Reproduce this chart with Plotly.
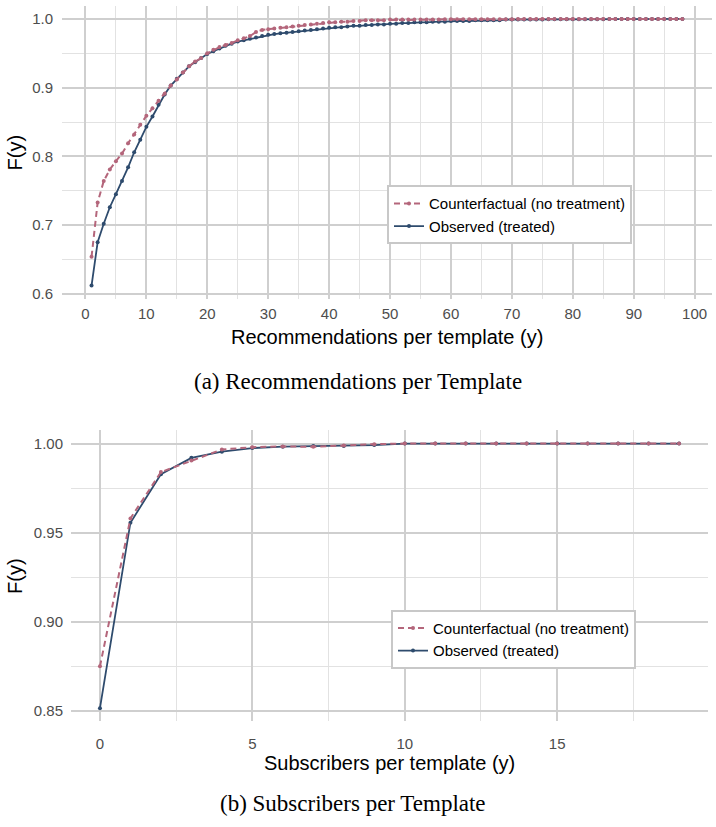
import plotly.graph_objects as go

# ---------------- data ----------------
rec_x = list(range(1, 99))
rec_counterfactual = [
    0.654, 0.733, 0.764, 0.781, 0.793, 0.804, 0.819, 0.832, 0.846, 0.859,
    0.870, 0.881, 0.891, 0.903, 0.912, 0.922, 0.931, 0.938, 0.943, 0.950,
    0.955, 0.959, 0.962, 0.965, 0.969, 0.972, 0.975, 0.981, 0.984, 0.985,
    0.986, 0.987, 0.988, 0.989, 0.990, 0.991, 0.992, 0.993, 0.994, 0.995,
    0.995, 0.996, 0.996, 0.997, 0.997, 0.998, 0.998, 0.998, 0.998, 0.999,
    0.999, 0.999, 0.999, 0.999, 0.999, 0.999, 0.999, 0.999, 0.9995, 0.9995,
    0.9995, 0.9995, 0.9995, 0.9995, 0.9995, 0.9995, 0.9995, 0.9995, 0.9995, 0.9995,
    1.0, 1.0, 1.0, 1.0, 1.0, 1.0, 1.0, 1.0, 1.0, 1.0,
    1.0, 1.0, 1.0, 1.0, 1.0, 1.0, 1.0, 1.0, 1.0, 1.0,
    1.0, 1.0, 1.0, 1.0, 1.0, 1.0, 1.0, 1.0,
]
rec_observed = [
    0.612, 0.675, 0.702, 0.726, 0.745, 0.764, 0.784, 0.806, 0.824, 0.843,
    0.858, 0.875, 0.890, 0.903, 0.913, 0.922, 0.931, 0.937, 0.943, 0.949,
    0.953, 0.957, 0.961, 0.964, 0.967, 0.969, 0.971, 0.973, 0.975, 0.977,
    0.978, 0.979, 0.980, 0.981, 0.982, 0.983, 0.984, 0.985, 0.986, 0.987,
    0.988, 0.988, 0.989, 0.990, 0.990, 0.991, 0.991, 0.992, 0.992, 0.993,
    0.993, 0.994, 0.994, 0.995, 0.995, 0.995, 0.996, 0.996, 0.996, 0.997,
    0.997, 0.997, 0.997, 0.998, 0.998, 0.998, 0.998, 0.998, 0.999, 0.999,
    0.999, 0.999, 0.999, 0.999, 0.999, 0.9995, 0.9995, 0.9995, 0.9995, 0.9995,
    0.9995, 0.9995, 0.9995, 0.9995, 0.9995, 1.0, 1.0, 1.0, 1.0, 1.0,
    1.0, 1.0, 1.0, 1.0, 1.0, 1.0, 1.0, 1.0,
]

sub_x = list(range(0, 20))
sub_counterfactual = [
    0.875, 0.958, 0.984, 0.9905, 0.9967, 0.998, 0.9984, 0.9982, 0.999, 0.9997,
    1.0, 1.0, 1.0, 1.0, 1.0, 1.0, 1.0, 1.0, 1.0, 1.0,
]
sub_observed = [
    0.8515, 0.9556, 0.9828, 0.992, 0.9955, 0.9975, 0.9983, 0.9986, 0.9987, 0.9992,
    1.0, 1.0, 1.0, 1.0, 1.0, 1.0, 1.0, 1.0, 1.0, 1.0,
]

# gridline positions (major ticks labelled, minor grid only)
rec_x_major = [0, 10, 20, 30, 40, 50, 60, 70, 80, 90, 100]
rec_x_minor = [5, 15, 25, 35, 45, 55, 65, 75, 85, 95]
rec_y_major = [0.6, 0.7, 0.8, 0.9, 1.0]
rec_y_minor = [0.65, 0.75, 0.85, 0.95]
sub_x_major = [0, 5, 10, 15]
sub_x_minor = [2.5, 7.5, 12.5, 17.5]
sub_y_major = [0.85, 0.90, 0.95, 1.00]
sub_y_minor = [0.875, 0.925, 0.975]

label_cf = "Counterfactual (no treatment)"
label_obs = "Observed (treated)"
caption_a = "(a) Recommendations per Template"
caption_b = "(b) Subscribers per Template"
xtitle_a = "Recommendations per template (y)"
xtitle_b = "Subscribers per template (y)"
ytitle = "F(y)"

# ---------------- style ----------------
W, H = 716, 827
PINK = "#b4667b"
BLUE = "#2e4b6d"
SANS = "Liberation Sans, Arial, sans-serif"
SERIF = "Liberation Serif, DejaVu Serif, serif"
MAJ = "#cfcfcf"
MIN = "#e2e2e2"


def px_x(p):
    return p / W


def px_y(p):
    return 1 - p / H


fig = go.Figure()

fig.add_trace(go.Scatter(
    x=rec_x, y=rec_observed, name=label_obs, mode="lines+markers",
    line=dict(color=BLUE, width=1.8),
    marker=dict(color=BLUE, size=4), xaxis="x", yaxis="y", legend="legend"))
fig.add_trace(go.Scatter(
    x=rec_x, y=rec_counterfactual, name=label_cf, mode="lines+markers",
    line=dict(color=PINK, width=2, dash="6px,4px"),
    marker=dict(color=PINK, size=4), xaxis="x", yaxis="y", legend="legend"))

fig.add_trace(go.Scatter(
    x=sub_x, y=sub_observed, name=label_obs, mode="lines+markers",
    line=dict(color=BLUE, width=1.8),
    marker=dict(color=BLUE, size=4), xaxis="x2", yaxis="y2", legend="legend2"))
fig.add_trace(go.Scatter(
    x=sub_x, y=sub_counterfactual, name=label_cf, mode="lines+markers",
    line=dict(color=PINK, width=2, dash="6px,4px"),
    marker=dict(color=PINK, size=4), xaxis="x2", yaxis="y2", legend="legend2"))

tickfont = dict(family=SANS, size=15, color="#4d4d4d")


def axis(domain, rng, major, minor, anchor, fmt, standoff):
    return dict(
        domain=domain, range=rng, anchor=anchor,
        tickmode="array", tickvals=major, tickformat=fmt,
        showgrid=True, gridcolor=MAJ, gridwidth=1.6, zeroline=False,
        showline=False, ticks="", tickfont=tickfont, fixedrange=True,
        ticklabelstandoff=standoff,
        minor=dict(tickmode="array", tickvals=minor, showgrid=True,
                   gridcolor=MIN, gridwidth=1.3, ticks=""),
    )


legend_style = dict(
    xanchor="left", yanchor="top", bgcolor="white", bordercolor="#c8c8c8",
    borderwidth=2, font=dict(family=SANS, size=15, color="black"),
    traceorder="reversed", itemwidth=30, tracegroupgap=0,
)

fig.update_layout(
    width=W, height=H,
    margin=dict(l=0, r=0, t=0, b=0),
    paper_bgcolor="white", plot_bgcolor="white",
    xaxis=axis([px_x(62), px_x(712)], [-3.85, 102.85], rec_x_major, rec_x_minor, "y", "d", 4),
    yaxis=axis([px_y(300), px_y(5.6)], [0.5926, 1.0194], rec_y_major, rec_y_minor, "x", ".1f", 8),
    xaxis2=axis([px_x(71), px_x(708)], [-0.95, 19.95], sub_x_major, sub_x_minor, "y2", "d", 12),
    yaxis2=axis([px_y(724), px_y(432)], [0.8441, 1.0074], sub_y_major, sub_y_minor, "x2", ".2f", 7),
    legend=dict(x=px_x(387), y=px_y(186), **legend_style),
    legend2=dict(x=px_x(391), y=px_y(612), **legend_style),
    showlegend=True,
)

ann = [
    dict(text=ytitle, x=px_x(15), y=px_y(153), textangle=-90),
    dict(text=ytitle, x=px_x(15), y=px_y(578), textangle=-90),
    dict(text=xtitle_a, x=px_x(387), y=px_y(338)),
    dict(text=xtitle_b, x=px_x(389), y=px_y(766)),
]
for a in ann:
    fig.add_annotation(xref="paper", yref="paper", showarrow=False,
                       xanchor="center", yanchor="middle",
                       font=dict(family=SANS, size=20, color="black"), **a)

for text, xc, yc in [(caption_a, 358, 383), (caption_b, 353, 806)]:
    fig.add_annotation(text=text, xref="paper", yref="paper", showarrow=False,
                       x=px_x(xc), y=px_y(yc), xanchor="center", yanchor="middle",
                       font=dict(family=SERIF, size=23, color="black"))

fig.write_html("out.html")
